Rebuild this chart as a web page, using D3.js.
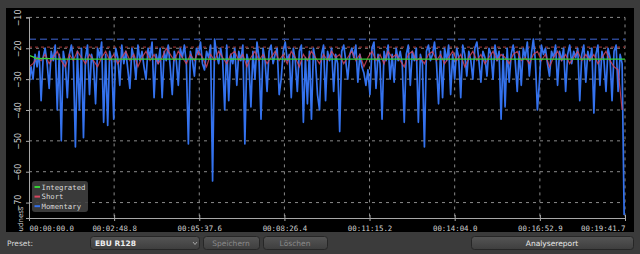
<!DOCTYPE html>
<html><head><meta charset="utf-8">
<script src="https://cdn.jsdelivr.net/npm/d3@7"></script>
<style>
html,body{margin:0;padding:0;background:#3b3b3b;overflow:hidden;}
svg{display:block;}
</style></head>
<body>
<svg id="c" width="640" height="254"></svg>
<script>
// ---------- DATA ----------
const xTickSeconds = [0, 168.8, 337.6, 506.4, 675.2, 844.0, 1012.9, 1181.7];
const xTickLabels = ["00:00:00.0","00:02:48.8","00:05:37.6","00:08:26.4","00:11:15.2","00:14:04.0","00:16:52.9","00:19:41.7"];
const yTicks = [-10, -20, -30, -40, -50, -60, -70];
const momentaryStep = 4; // seconds between samples
const momentary = [
 -32,-26,-30,-22,-26,-21,-37,-23,-20,-25,-33,-21,-24,-19,-40,-22,-50,-21,-25,-36,
 -22,-19,-24,-52,-21,-40,-20,-49,-23,-19,-35,-22,-25,-38,-20,-23,-18,-44,-22,-45,
 -21,-24,-43,-20,-23,-32,-19,-25,-21,-27,-33,-20,-23,-30,-19,-24,-21,-26,-30,-20,
 -23,-18,-36,-22,-25,-20,-36,-21,-24,-19,-26,-35,-21,-24,-32,-20,-23,-19,-25,-51,
 -21,-24,-29,-20,-22,-18,-25,-27,-21,-23,-19,-63,-17,-22,-25,-20,-24,-40,-19,-37,
 -22,-25,-20,-32,-21,-24,-19,-51,-22,-25,-39,-21,-30,-18,-23,-43,-20,-24,-34,-21,
 -19,-25,-22,-20,-35,-30,-21,-18,-24,-22,-36,-20,-24,-34,-21,-19,-44,-23,-38,-21,
 -43,-20,-24,-35,-40,-22,-19,-37,-21,-24,-20,-34,-22,-25,-47,-21,-19,-24,-30,-22,
 -20,-23,-19,-31,-22,-26,-28,-32,-27,-35,-20,-18,-33,-22,-25,-43,-21,-24,-19,-30,
 -22,-31,-20,-24,-21,-25,-44,-22,-19,-32,-21,-24,-20,-44,-22,-25,-52,-21,-19,-24,
 -22,-18,-25,-38,-21,-36,-20,-24,-19,-35,-22,-30,-20,-23,-36,-19,-22,-29,-21,-24,
 -30,-20,-18,-24,-31,-21,-23,-29,-20,-22,-30,-19,-24,-21,-43,-22,-39,-20,-31,-22,
 -19,-24,-34,-21,-32,-20,-23,-18,-29,-22,-17,-24,-40,-31,-19,-22,-20,-25,-29,-21,
 -23,-19,-32,-21,-24,-20,-34,-22,-19,-25,-21,-23,-20,-37,-22,-19,-31,-21,-24,-20,
 -41,-22,-19,-32,-21,-24,-34,-20,-23,-37,-21,-19,-34,-22,-25,-74
];
const shortStep = 8; // seconds between samples
const shortTerm = [
 -26,-25,-23,-24,-22,-25,-23,-21,-24,-26,-22,-24,-21,-23,-25,-22,-24,-26,-23,-21,
 -24,-22,-25,-23,-21,-24,-22,-26,-23,-21,-24,-22,-25,-23,-20,-22,-24,-21,-23,-25,
 -22,-24,-21,-23,-26,-22,-24,-21,-23,-25,-22,-21,-24,-22,-26,-23,-21,-24,-22,-25,
 -23,-21,-24,-22,-25,-21,-23,-26,-22,-24,-21,-23,-25,-22,-24,-21,-23,-22,-25,-23,
 -21,-24,-22,-26,-23,-21,-24,-22,-25,-21,-23,-22,-24,-26,-22,-21,-24,-23,-25,-22,
 -21,-24,-22,-25,-23,-21,-24,-22,-26,-23,-21,-24,-22,-25,-23,-21,-24,-22,-23,-25,
 -22,-21,-24,-23,-25,-22,-21,-24,-22,-26,-23,-21,-24,-22,-25,-23,-21,-24,-22,-24,
 -22,-25,-23,-21,-24,-26,-27,-40
];
const integratedTimes = [0, 8, 16, 30, 60, 120, 400, 800, 1181.7];
const integratedValues = [-22.3, -22.8, -23.4, -23.3, -23.5, -23.5, -23.5, -23.5, -23.5];
const maxMomentaryRef = -17.1;
const maxShortRef = -19.6;
const legendLabels = ["Integrated", "Short", "Momentary"];
const presetName = "EBU R128";
const buttonLabels = ["Speichern", "Löschen", "Analysereport"];

// ---------- CHART ----------
const svg = d3.select("#c");
const X0 = 29, X1 = 625, YT = 17.4, YB = 218;
const x = d3.scaleLinear().domain([0, 1181.7]).range([X0, X1]);
const y = d3.scaleLinear().domain([-75, -10]).range([YB, YT]);

// panel
svg.append("rect").attr("x", 6).attr("y", 8).attr("width", 628).attr("height", 224).attr("fill", "#000");

const defs = svg.append("defs");
defs.append("clipPath").attr("id", "plotclip").append("rect")
  .attr("x", X0).attr("y", 10).attr("width", X1 - X0 + 2).attr("height", YB - 10);
defs.append("clipPath").attr("id", "panelclip").append("rect")
  .attr("x", 6).attr("y", 8).attr("width", 628).attr("height", 224);

// grid
const grid = svg.append("g");
grid.selectAll("line.h").data(yTicks).join("line")
  .attr("x1", X0).attr("x2", X1).attr("y1", d => y(d)).attr("y2", d => y(d))
  .attr("stroke", "#8a8a8a").attr("stroke-width", 1).attr("stroke-dasharray", "3,4");
grid.selectAll("line.v").data(xTickSeconds.slice(1)).join("line")
  .attr("x1", d => x(d)).attr("x2", d => x(d)).attr("y1", YT).attr("y2", YB)
  .attr("stroke", "#8a8a8a").attr("stroke-width", 1).attr("stroke-dasharray", "3,4");

// reference lines
svg.append("line").attr("x1", X0).attr("x2", X1)
  .attr("y1", y(maxMomentaryRef)).attr("y2", y(maxMomentaryRef))
  .attr("stroke", "#2b4590").attr("stroke-width", 1.6).attr("stroke-dasharray", "7,4");
svg.append("line").attr("x1", X0).attr("x2", X1)
  .attr("y1", y(maxShortRef)).attr("y2", y(maxShortRef))
  .attr("stroke", "#8a2e2e").attr("stroke-width", 1.3).attr("stroke-dasharray", "3,3");

// series
const plot = svg.append("g").attr("clip-path", "url(#plotclip)");
const line = d3.line().x(d => x(d[0])).y(d => y(d[1]));
const momPts = momentary.map((v, i) => [i * momentaryStep, v]);
const shortPts = shortTerm.map((v, i) => [i * shortStep, v]);
const intPts = integratedTimes.map((t, i) => [t, integratedValues[i]]);
plot.append("path").attr("d", line(momPts)).attr("fill", "none")
  .attr("stroke", "#3472ee").attr("stroke-width", 1.7).attr("stroke-linejoin", "round");
plot.append("path").attr("d", line(shortPts)).attr("fill", "none")
  .attr("stroke", "#d8465e").attr("stroke-opacity", 0.8).attr("stroke-width", 1.2);
plot.append("path").attr("d", line(intPts)).attr("fill", "none")
  .attr("stroke", "#35d135").attr("stroke-width", 1.3);

// axes
const xAxis = d3.axisBottom(x).tickValues(xTickSeconds).tickSize(3)
  .tickFormat((d, i) => xTickLabels[i]);
const gx = svg.append("g").attr("transform", `translate(0,${YB})`).call(xAxis);
gx.select(".domain").attr("stroke", "#a8a8a8");
gx.selectAll(".tick line").attr("stroke", "#a8a8a8").attr("y1", -3);
gx.selectAll(".tick text").attr("fill", "#d0d0d0")
  .attr("font-family", "DejaVu Sans Mono").attr("font-size", "7.4px").attr("dy", "0.9em")
  .attr("text-anchor", (d, i) => i === 0 ? "start" : (i === xTickSeconds.length - 1 ? "end" : "middle"));

const yAxis = d3.axisLeft(y).tickValues(yTicks).tickSize(3).tickFormat(d3.format("d"));
const gy = svg.append("g").attr("transform", `translate(${X0},0)`).call(yAxis);
gy.select(".domain").attr("stroke", "#a8a8a8");
gy.selectAll(".tick line").attr("stroke", "#a8a8a8");
gy.selectAll(".tick text").attr("fill", "#d0d0d0")
  .attr("font-family", "DejaVu Sans").attr("font-size", "8px")
  .attr("x", null).attr("dy", null)
  .attr("text-anchor", "middle")
  .attr("transform", "translate(-8,0) rotate(-90)");

svg.append("g").attr("clip-path", "url(#panelclip)")
  .append("text").attr("transform", "translate(23,223) rotate(-90)")
  .attr("text-anchor", "middle").attr("fill", "#d0d0d0")
  .attr("font-family", "DejaVu Sans").attr("font-size", "7px").text("Loudness");

// legend
const lg = svg.append("g");
lg.append("rect").attr("x", 32).attr("y", 181).attr("width", 56).attr("height", 31)
  .attr("rx", 3).attr("fill", "#404040").attr("fill-opacity", 0.9);
const legendColors = ["#35d135", "#d8465e", "#3472ee"];
legendLabels.forEach((t, i) => {
  const cy = 187 + i * 9.6;
  lg.append("line").attr("x1", 34.5).attr("x2", 40).attr("y1", cy).attr("y2", cy)
    .attr("stroke", legendColors[i]).attr("stroke-width", 2);
  lg.append("text").attr("x", 41.5).attr("y", cy + 2.6).attr("fill", "#d8d8d8")
    .attr("font-family", "DejaVu Sans Mono").attr("font-size", "7.3px").text(t);
});

// toolbar
const tb = svg.append("g");
tb.append("text").attr("x", 7).attr("y", 246).attr("fill", "#d8d8d8")
  .attr("font-family", "DejaVu Sans").attr("font-size", "7.5px").text("Preset:");
const grad = defs.append("linearGradient").attr("id", "btn").attr("x1", 0).attr("x2", 0).attr("y1", 0).attr("y2", 1);
grad.append("stop").attr("offset", 0).attr("stop-color", "#555");
grad.append("stop").attr("offset", 1).attr("stop-color", "#3e3e3e");
function button(x0, x1, label, color, anchor) {
  tb.append("rect").attr("x", x0 + 0.5).attr("y", 236.5).attr("width", x1 - x0).attr("height", 13)
    .attr("rx", 3).attr("fill", "url(#btn)").attr("stroke", "#262626");
  tb.append("text").attr("x", anchor === "start" ? x0 + 5 : (x0 + x1) / 2).attr("y", 246)
    .attr("text-anchor", anchor || "middle").attr("fill", color)
    .attr("font-family", "DejaVu Sans").attr("font-size", "7.5px").text(label);
}
button(90, 199, presetName, "#eeeeee", "start");
tb.select("text:last-child").attr("font-weight", "bold");
tb.append("path").attr("d", "M193,242 l2,2.5 l2,-2.5").attr("fill", "none").attr("stroke", "#bbb").attr("stroke-width", 0.8);
button(203, 259, buttonLabels[0], "#8a8a8a");
button(263, 327, buttonLabels[1], "#8a8a8a");
button(471, 633, buttonLabels[2], "#e8e8e8");
</script>
</body></html>
